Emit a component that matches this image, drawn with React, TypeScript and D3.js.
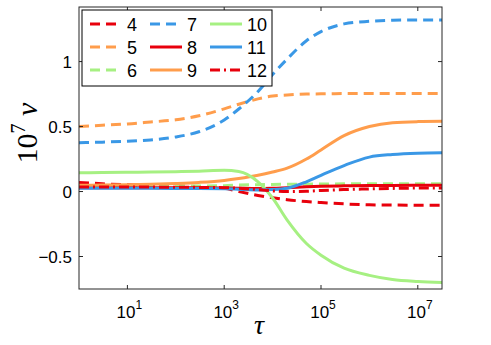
import React, { useEffect, useRef } from "react"
import * as d3 from "d3"

// time points (tau) shared by every curve
const tau = [1, 3, 10, 30, 100, 300, 1e3, 2e3, 5e3, 1e4, 2e4, 5e4, 1e5, 3e5, 1e6, 3e6, 1e7, 3.2e7]

const v4 = [0.07, 0.06, 0.052, 0.047, 0.042, 0.037, 0.025, 0.0, -0.03, -0.048, -0.063, -0.077, -0.085, -0.095, -0.102, -0.104, -0.105, -0.105]
const v5 = [0.5, 0.51, 0.52, 0.535, 0.552, 0.583, 0.636, 0.672, 0.713, 0.735, 0.743, 0.75, 0.752, 0.754, 0.755, 0.755, 0.755, 0.755]
const v6 = [0.04, 0.04, 0.041, 0.041, 0.042, 0.043, 0.045, 0.05, 0.053, 0.055, 0.056, 0.057, 0.058, 0.059, 0.06, 0.06, 0.06, 0.06]
const v7 = [0.375, 0.38, 0.387, 0.397, 0.42, 0.46, 0.55, 0.635, 0.77, 0.9, 1.02, 1.16, 1.23, 1.29, 1.31, 1.318, 1.32, 1.32]
const v8 = [0.03, 0.03, 0.03, 0.03, 0.029, 0.029, 0.028, 0.026, 0.024, 0.025, 0.03, 0.036, 0.04, 0.044, 0.046, 0.047, 0.048, 0.048]
const v9 = [0.048, 0.05, 0.052, 0.056, 0.062, 0.07, 0.085, 0.1, 0.125, 0.15, 0.18, 0.25, 0.32, 0.43, 0.5, 0.53, 0.538, 0.54]
const v10 = [0.145, 0.146, 0.148, 0.15, 0.153, 0.157, 0.163, 0.155, 0.075, -0.05, -0.22, -0.4, -0.49, -0.59, -0.645, -0.677, -0.692, -0.7]
const v11 = [0.025, 0.025, 0.025, 0.025, 0.024, 0.023, 0.022, 0.018, 0.012, 0.015, 0.025, 0.075, 0.125, 0.2, 0.265, 0.285, 0.295, 0.298]
const v12 = [0.035, 0.035, 0.034, 0.034, 0.033, 0.032, 0.03, 0.025, 0.015, 0.005, 0.0, 0.002, 0.008, 0.015, 0.02, 0.024, 0.027, 0.028]

const names = ["4", "5", "6", "7", "8", "9", "10", "11", "12"]
const values = [v4, v5, v6, v7, v8, v9, v10, v11, v12]

const red = "#e8000c"
const orange = "#ff9d4c"
const green = "#a6f082"
const blue = "#3a98e6"
const colors = [red, orange, green, blue, red, orange, green, blue, red]
const dashes = ["10,6", "10,6", "10,6", "10,6", null, null, null, null, "10,4,2,4"]

const xTicks = [10, 1e3, 1e5, 1e7]
const xTickExp = ["1", "3", "5", "7"]
const yTicks = [-0.5, 0, 0.5, 1]
const yTickLabels = ["\u22120.5", "0", "0.5", "1"]

export default function App() {
  const ref = useRef<SVGSVGElement>(null)

  useEffect(() => {
    const svg = d3.select(ref.current)
    svg.selectAll("*").remove()

    const left = 79, right = 442, top = 7, bottom = 289
    const x = d3.scaleLog().domain([1, Math.pow(10, 7.5)]).range([left, right])
    const y = d3.scaleLinear().domain([-0.75, 1.42]).range([bottom, top])

    const line = d3
      .line<number>()
      .x((d, i) => x(tau[i]))
      .y(d => y(d))
      .curve(d3.curveMonotoneX)

    svg
      .append("defs")
      .append("clipPath")
      .attr("id", "plotclip")
      .append("rect")
      .attr("x", left)
      .attr("y", top)
      .attr("width", right - left)
      .attr("height", bottom - top)

    svg
      .append("g")
      .attr("clip-path", "url(#plotclip)")
      .selectAll("path")
      .data(values)
      .join("path")
      .attr("d", d => line(d))
      .attr("fill", "none")
      .attr("stroke", (d, i) => colors[i])
      .attr("stroke-width", 3)
      .attr("stroke-dasharray", (d, i) => dashes[i])

    // axes box
    const ax = svg.append("g").attr("stroke", "#262626").attr("stroke-width", 1)
    ax.append("rect")
      .attr("x", left)
      .attr("y", top)
      .attr("width", right - left)
      .attr("height", bottom - top)
      .attr("fill", "none")

    xTicks.forEach(t => {
      ax.append("line").attr("x1", x(t)).attr("x2", x(t)).attr("y1", bottom).attr("y2", bottom - 4)
      ax.append("line").attr("x1", x(t)).attr("x2", x(t)).attr("y1", top).attr("y2", top + 4)
    })
    yTicks.forEach(t => {
      ax.append("line").attr("x1", left).attr("x2", left + 4).attr("y1", y(t)).attr("y2", y(t))
      ax.append("line").attr("x1", right).attr("x2", right - 4).attr("y1", y(t)).attr("y2", y(t))
    })

    const font = "'Liberation Sans', Arial, sans-serif"

    svg
      .append("g")
      .attr("font-family", font)
      .attr("font-size", 17)
      .attr("text-anchor", "end")
      .selectAll("text")
      .data(yTicks)
      .join("text")
      .attr("x", left - 7)
      .attr("y", d => y(d) + 6)
      .text((d, i) => yTickLabels[i])

    const xl = svg
      .append("g")
      .attr("font-family", font)
      .attr("font-size", 17)
      .attr("text-anchor", "middle")
      .selectAll("text")
      .data(xTicks)
      .join("text")
      .attr("x", d => x(d) + 2)
      .attr("y", 318)
    xl.append("tspan").text("10")
    xl.append("tspan").attr("font-size", 12).attr("dy", -9).text((d, i) => xTickExp[i])

    // axis labels
    svg
      .append("text")
      .attr("x", 259)
      .attr("y", 334)
      .attr("text-anchor", "middle")
      .attr("font-family", "'Liberation Serif', 'DejaVu Serif', serif")
      .attr("font-style", "italic")
      .attr("font-size", 28)
      .text("\u03c4")

    const yl = svg
      .append("text")
      .attr("transform", "translate(37,133) rotate(-90)")
      .attr("text-anchor", "middle")
      .attr("font-family", "'Liberation Serif', 'DejaVu Serif', serif")
      .attr("font-size", 30)
    yl.append("tspan").text("10")
    yl.append("tspan").attr("font-size", 20).attr("dy", -12).text("7")
    yl.append("tspan").attr("dy", 12).attr("font-style", "italic").text(" v")

    // legend
    const lg = svg.append("g")
    lg.append("rect")
      .attr("x", 82)
      .attr("y", 10)
      .attr("width", 190)
      .attr("height", 76)
      .attr("fill", "white")
      .attr("stroke", "black")
      .attr("stroke-width", 1)
    const item = lg
      .selectAll("g.item")
      .data(names)
      .join("g")
      .attr("class", "item")
      .attr("transform", (d, i) => `translate(${90 + Math.floor(i / 3) * 60},${24 + (i % 3) * 23})`)
    item
      .append("line")
      .attr("x1", 0)
      .attr("x2", 32)
      .attr("stroke", (d, i) => colors[i])
      .attr("stroke-width", 3)
      .attr("stroke-dasharray", (d, i) => dashes[i])
    item
      .append("text")
      .attr("x", 37)
      .attr("y", 6.5)
      .attr("font-family", font)
      .attr("font-size", 18)
      .text(d => d)
  }, [])

  return <svg ref={ref} width={491} height={345} style={{ position: "absolute", left: 0, top: 0 }} />
}
